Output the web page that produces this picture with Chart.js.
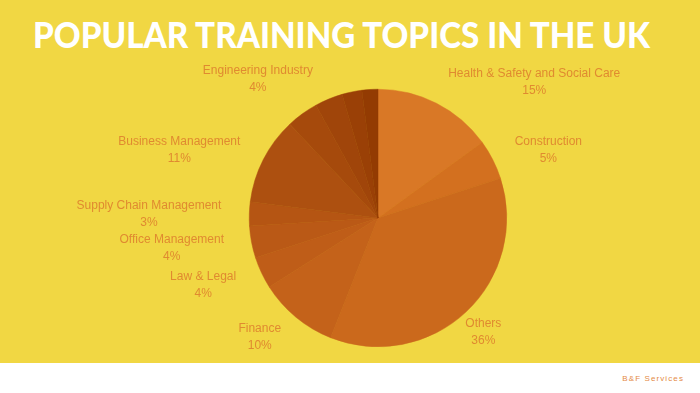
<!DOCTYPE html>
<html><head><meta charset="utf-8">
<script src="https://cdn.jsdelivr.net/npm/chart.js@4.4.1/dist/chart.umd.min.js"></script>
<style>
html,body{margin:0;padding:0;width:700px;height:393px;overflow:hidden;background:#fff;}
#bg{position:absolute;left:0;top:0;width:700px;height:363px;background:#F1D743;}
#title{position:absolute;left:33px;top:16px;font:900 36px Lato;line-height:36px;color:#fff;white-space:nowrap;transform-origin:0 0;}
#brand{position:absolute;right:16px;top:374px;font:8px "Liberation Sans";letter-spacing:1.1px;color:#E48A45;white-space:nowrap;}
#wrap{position:absolute;left:0;top:0;width:700px;height:393px;}
</style></head>
<body>
<div id="bg"></div>
<div id="title">POPULAR TRAINING TOPICS IN THE UK</div>
<div id="brand">B&amp;F Services</div>
<div id="wrap"><canvas id="c" width="700" height="393"></canvas></div>
<script>
// ---- data ----
const categories = ["Health & Safety and Social Care","Construction","Others","Finance","Law & Legal","Office Management","Supply Chain Management","Business Management","Engineering Industry","Unlabelled A","Unlabelled B","Unlabelled C"];
const values = [15,5,36,10,4,4,3,11,4,3.5,2.5,2];
const showLabel = [true,true,true,true,true,true,true,true,true,false,false,false];

// ---- styles ----
const sliceColors = ["#D97826","#D3701F","#CB691C","#C4621A","#BF5D18","#BA5916","#B55513","#AD5010","#A64A0C","#A0450A","#9A4006","#933B02"];
const labelColor = "#E08A30";
const labelAlign = ["left","left","center","right","right","right","right","right","center","center","center","center"];
const labelNudge = [[-1,1],[-3,1],[-2,-3],[3,-4],[0,-2],[0,-2],[0,-1],[2,1],[-28,-14.5],[0,0],[0,0],[0,0]];

// fit title width
const t=document.getElementById('title');
const tw=t.getBoundingClientRect().width;
t.style.transform='scaleX('+(617/tw)+')';

const labelPlugin={
  id:'sliceLabels',
  afterDatasetsDraw(chart){
    const ctx=chart.ctx, meta=chart.getDatasetMeta(0);
    ctx.save();
    ctx.font='12px "Liberation Sans", Arial, sans-serif';
    ctx.fillStyle=labelColor;
    ctx.textBaseline='middle';
    ctx.textAlign='center';
    meta.data.forEach((arc,i)=>{
      if(!showLabel[i]) return;
      const p=arc.getProps(['x','y','startAngle','endAngle','outerRadius'],true);
      const mid=(p.startAngle+p.endAngle)/2, d=p.outerRadius+28;
      const px=p.x+Math.cos(mid)*d+labelNudge[i][0];
      const py=p.y+Math.sin(mid)*d+labelNudge[i][1];
      const l1=categories[i], l2=values[i]+'%';
      const w=ctx.measureText(l1).width;
      const a=labelAlign[i];
      const cx=a==='right'?px-w/2:(a==='left'?px+w/2:px);
      ctx.fillText(l1,cx,py-6);
      ctx.fillText(l2,cx,py+11);
    });
    ctx.restore();
  }
};

new Chart(document.getElementById('c'),{
  type:'pie',
  data:{labels:categories,datasets:[{data:values,backgroundColor:sliceColors,borderColor:sliceColors,borderWidth:0.5}]},
  options:{
    responsive:false,animation:false,
    layout:{padding:{left:249,right:193,top:89,bottom:46}},
    plugins:{legend:{display:false},tooltip:{enabled:false},title:{display:false}}
  },
  plugins:[labelPlugin]
});
</script>
</body></html>
